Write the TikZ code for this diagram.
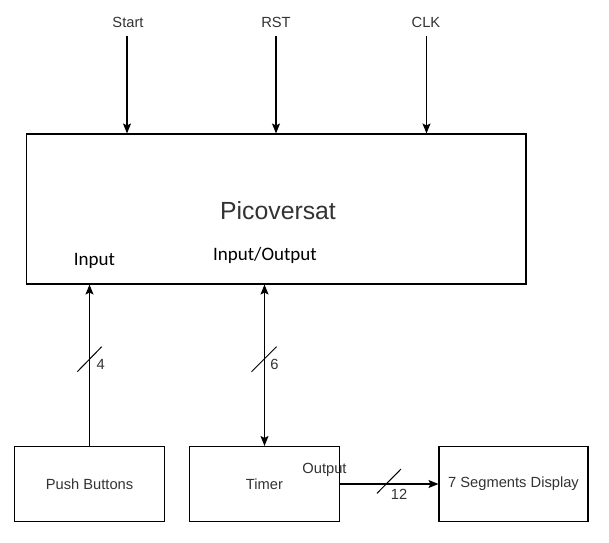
\documentclass[tikz,border=0pt]{standalone}
\usepackage{fontspec}
\setmainfont{Liberation Sans}
\newfontfamily\calib{Carlito}
\usetikzlibrary{arrows.meta}
\definecolor{txt}{HTML}{333333}
\tikzset{
  blk/.style={draw=black, line width=1.1pt, rectangle, inner sep=0pt,
    font=\fontsize{14.7}{17}\selectfont, text=txt},
  lbl/.style={inner sep=0pt, anchor=base, font=\fontsize{14.7}{17}\selectfont, text=txt},
  clbl/.style={inner sep=0pt, anchor=base, font=\calib\fontsize{19}{22}\selectfont, text=black},
  arr/.style={line width=1.2pt, -{Stealth[length=10pt,width=8pt,inset=2pt]}},
  biarr/.style={line width=1.2pt, {Stealth[length=10pt,width=8pt,inset=2pt]}-{Stealth[length=10pt,width=8pt,inset=2pt]}},
  bus/.style={line width=1pt},
}
\begin{document}
\begin{tikzpicture}[x=1pt,y=-1pt]
\useasboundingbox[fill=white] (0,0) rectangle (609,542);

% main box
\node[blk, minimum width=499.5pt, minimum height=150pt] (pico) at (276.25,209) {};
\node[inner sep=0pt, anchor=base, font=\fontsize{24.8}{28}\selectfont, text=txt] (picot) at (278,219) {Picoversat};

% top inputs
\node[lbl] (start) at (128,27.7) {Start};
\node[lbl] (rst) at (276,27.7) {RST};
\node[lbl] (clk) at (426,27.7) {CLK};
\coordinate (startc) at (127,36);
\coordinate (rstc) at (276,36);
\coordinate (clkc) at (426.5,36);
\draw[arr] (startc) -- (startc |- pico.north);
\draw[arr] (rstc) -- (rstc |- pico.north);
\draw[arr] (clkc) -- (clkc |- pico.north);

% port labels
\node[clbl] (inl) at (94.5,265) {Input};
\node[clbl] (iol) at (265,260.7) {Input/Output};

% bottom boxes
\node[blk, minimum width=150pt, minimum height=75pt] (pb) at (89.5,484) {Push Buttons};
\node[blk, minimum width=150pt, minimum height=75pt] (timer) at (264.5,484) {Timer};
\node[blk, minimum width=149pt, minimum height=75pt] (disp) at (513.5,484) {7 Segments Display};

% connectors
\draw[arr] (pb.north) -- (pb.north |- pico.south);
\draw[biarr] (timer.north |- pico.south) -- (timer.north);
\draw[arr] (timer.east) -- (disp.west);

% bus markers
\draw[bus] (77.3,371.7) -- (101.7,346.7);
\node[lbl] (b4) at (100.7,369) {4};
\draw[bus] (251.5,371.7) -- (276.5,346.7);
\node[lbl] (b6) at (274.5,369) {6};
\draw[bus] (377,493.3) -- (401,469);
\node[lbl] (b12) at (399,499) {12};
\node[lbl] (outl) at (324.5,473.3) {Output};
\end{tikzpicture}
\end{document}
